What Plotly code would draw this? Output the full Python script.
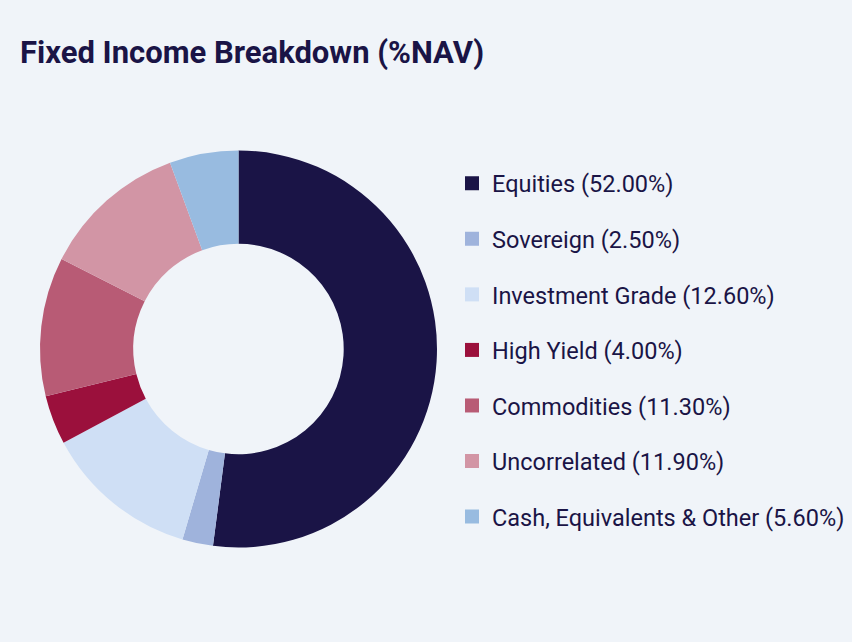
import plotly.graph_objects as go

LABELS = [
    "Equities",
    "Sovereign",
    "Investment Grade",
    "High Yield",
    "Commodities",
    "Uncorrelated",
    "Cash, Equivalents & Other",
]
VALUES = [52.0, 2.5, 12.6, 4.0, 11.3, 11.9, 5.6]
COLORS = ["#1a1446", "#9fb3dc", "#cfdff5", "#9b103c", "#b85b75", "#d295a5", "#98bbe0"]

BG = "#f0f4f9"
INK = "#1a1446"
FONT = "Roboto"

W, H = 852, 642

legend_names = [f"{lab} ({val:.2f}%)" for lab, val in zip(LABELS, VALUES)]

fig = go.Figure()
fig.add_trace(
    go.Pie(
        labels=LABELS,
        values=VALUES,
        marker={"colors": COLORS, "line": {"width": 0}},
        hole=0.53,
        sort=False,
        direction="clockwise",
        rotation=0,
        textinfo="none",
        showlegend=False,
        customdata=legend_names,
        hovertemplate="%{customdata}<extra></extra>",
        domain={"x": [40 / W, 437 / W], "y": [1 - 548 / H, 1 - 150 / H]},
    )
)

# legend entries as separate groups so the spacing between them can be set
for i, (name, color) in enumerate(zip(legend_names, COLORS)):
    fig.add_trace(
        go.Scatter(
            x=[None],
            y=[None],
            mode="markers",
            marker={"symbol": "square", "size": 14, "color": color},
            name=name,
            legendgroup=f"g{i}",
            hoverinfo="skip",
        )
    )

fig.update_xaxes(visible=False)
fig.update_yaxes(visible=False)

fig.update_layout(
    width=W,
    height=H,
    paper_bgcolor=BG,
    plot_bgcolor=BG,
    margin={"l": 0, "r": 0, "t": 0, "b": 0},
    font={"family": FONT, "color": INK},
    title={
        "text": "<b>Fixed Income Breakdown (%NAV)</b>",
        "x": 20 / W,
        "xanchor": "left",
        "y": 1 - 52 / H,
        "yanchor": "middle",
        "font": {"size": 31, "color": INK, "family": FONT},
    },
    legend={
        "x": 452 / W,
        "xanchor": "left",
        "y": 1 - 350 / H,
        "yanchor": "middle",
        "traceorder": "grouped",
        "tracegroupgap": 22,
        "font": {"size": 23.5, "color": INK, "family": FONT},
        "bgcolor": "rgba(0,0,0,0)",
    },
)

fig.write_html(
    "out.html",
    config={"displayModeBar": False},
    post_script="document.body.style.margin='0';",
)
